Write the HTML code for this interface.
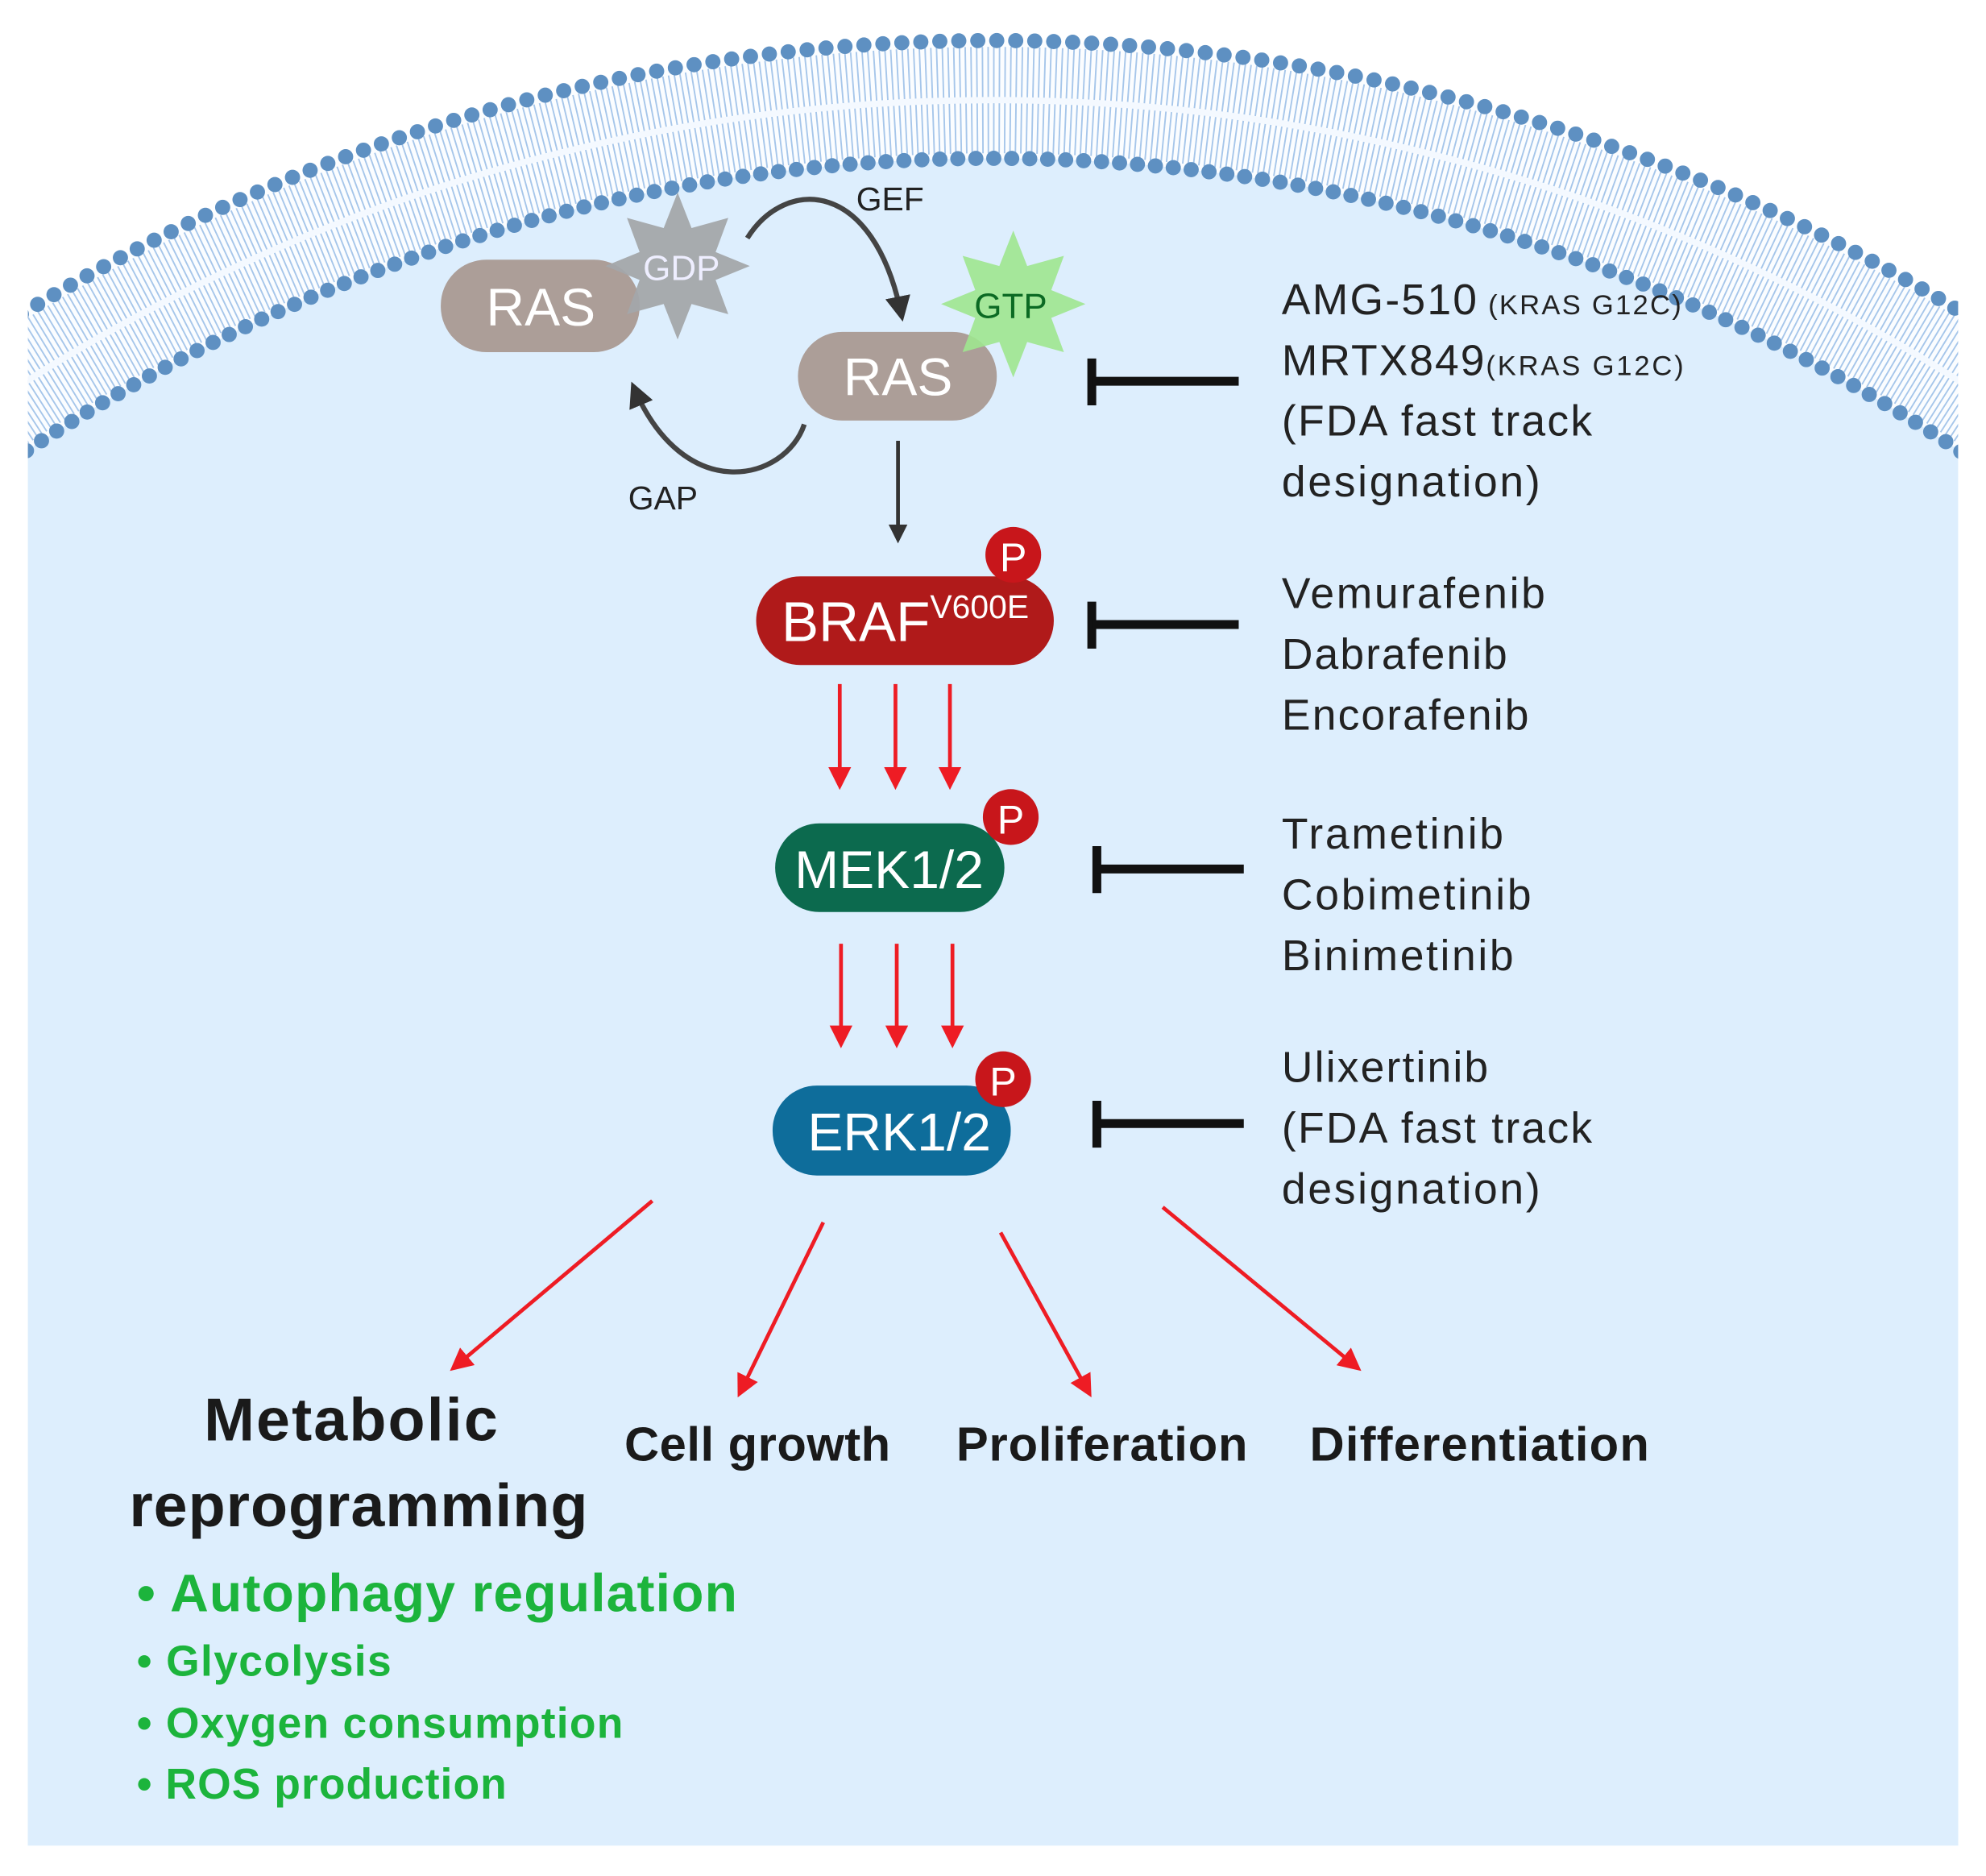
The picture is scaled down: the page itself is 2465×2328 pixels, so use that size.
<!DOCTYPE html>
<html><head><meta charset="utf-8"><style>
html,body{margin:0;padding:0;background:#fff;overflow:hidden;width:2465px;height:2328px}
svg{display:block}
text{font-family:"Liberation Sans",sans-serif}
</style></head><body>
<svg width="2465" height="2328" viewBox="0 0 1568 1481" preserveAspectRatio="none" xmlns="http://www.w3.org/2000/svg">
<defs>
<clipPath id="cp"><rect x="22" y="0" width="1524" height="1457"/></clipPath>
<marker id="ad" viewBox="0 0 10 10" refX="8" refY="5" markerWidth="5" markerHeight="5" orient="auto"><path d="M0,0 L10,5 L0,10 z" fill="#333"/></marker>
<marker id="ar" viewBox="0 0 10 10" refX="8" refY="5" markerWidth="6" markerHeight="6" orient="auto"><path d="M0,0 L10,5 L0,10 z" fill="#ee1c24"/></marker>
</defs>
<rect width="1568" height="1481" fill="#fff"/>
<g clip-path="url(#cp)">
  <circle cx="784" cy="1502" r="1470" fill="#fbfdff"/>
  <circle cx="784" cy="1502" r="1423" fill="none" stroke="#a6c6ea" stroke-width="84" stroke-dasharray="1.2 3.2"/>
  <circle cx="784" cy="1502" r="1423" fill="none" stroke="#f4f9ff" stroke-width="5"/>
  <circle cx="784" cy="1502" r="1377" fill="#ddeefd"/>
  <rect x="22" y="1300" width="1524" height="157" fill="#ddeefd"/>
  <circle cx="784" cy="1502" r="1470" fill="none" stroke="#5e90c2" stroke-width="12" stroke-linecap="round" stroke-dasharray="0 15"/>
  <circle cx="784" cy="1502" r="1377" fill="none" stroke="#5e90c2" stroke-width="12" stroke-linecap="round" stroke-dasharray="0 14.2"/>
</g>

<path d="M590,188 C620,140 690,140 712,250" fill="none" stroke="#444" stroke-width="4" marker-end="url(#ad)"/>
<text x="676" y="166" font-size="26" fill="#222">GEF</text>
<path d="M635,335 C620,380 540,400 500,305" fill="none" stroke="#444" stroke-width="4" marker-end="url(#ad)"/>
<text x="496" y="402" font-size="26" fill="#222">GAP</text>

<rect x="348" y="205" width="157" height="73" rx="36" fill="#ac9e98"/>
<polygon points="535,152 546,180 575,172 565,199 592,210 565,221 575,248 546,240 535,268 524,240 495,248 505,221 478,210 505,199 495,172 524,180" fill="#a3a6aa" opacity="0.95"/>
<text x="427" y="257" font-size="42" fill="#fff" text-anchor="middle">RAS</text>
<text x="538" y="221" font-size="28" fill="#eef" text-anchor="middle">GDP</text>

<rect x="630" y="262" width="157" height="70" rx="35" fill="#ac9e98"/>
<polygon points="800,182 811,210 840,202 830,229 857,240 830,251 840,278 811,270 800,298 789,270 760,278 770,251 743,240 770,229 760,202 789,210" fill="#9ee58f" opacity="0.9"/>
<text x="709" y="312" font-size="42" fill="#fff" text-anchor="middle">RAS</text>
<text x="798" y="251" font-size="28" fill="#0b6a23" text-anchor="middle">GTP</text>

<line x1="709" y1="348" x2="709" y2="426" stroke="#333" stroke-width="3" marker-end="url(#ad)"/>

<rect x="597" y="455" width="235" height="70" rx="35" fill="#b01a1a"/>
<text x="617" y="506" font-size="44" fill="#fff">BRAF<tspan font-size="26" dy="-18">V600E</tspan></text>
<circle cx="800" cy="438" r="22" fill="#c8161b"/>
<text x="800" y="451" font-size="32" fill="#fff" text-anchor="middle">P</text>

<g stroke="#ee1c24" stroke-width="3" marker-end="url(#ar)">
<line x1="663" y1="540" x2="663" y2="620"/><line x1="707" y1="540" x2="707" y2="620"/><line x1="750" y1="540" x2="750" y2="620"/>
<line x1="664" y1="745" x2="664" y2="824"/><line x1="708" y1="745" x2="708" y2="824"/><line x1="752" y1="745" x2="752" y2="824"/>
<line x1="515" y1="948" x2="358" y2="1080"/><line x1="650" y1="965" x2="584" y2="1100"/>
<line x1="790" y1="973" x2="860" y2="1100"/><line x1="918" y1="953" x2="1072" y2="1080"/>
</g>

<rect x="612" y="650" width="181" height="70" rx="35" fill="#0c6a4e"/>
<text x="702" y="701" font-size="42" fill="#fff" text-anchor="middle">MEK1/2</text>
<circle cx="798" cy="645" r="22" fill="#c8161b"/>
<text x="798" y="658" font-size="32" fill="#fff" text-anchor="middle">P</text>

<rect x="610" y="857" width="188" height="71" rx="35" fill="#0e6d9b"/>
<text x="710" y="908" font-size="42" fill="#fff" text-anchor="middle">ERK1/2</text>
<circle cx="792" cy="852" r="22" fill="#c8161b"/>
<text x="792" y="865" font-size="32" fill="#fff" text-anchor="middle">P</text>

<g stroke="#111" stroke-width="7">
<line x1="862" y1="283" x2="862" y2="320"/><line x1="862" y1="301" x2="978" y2="301"/>
<line x1="862" y1="475" x2="862" y2="512"/><line x1="862" y1="493" x2="978" y2="493"/>
<line x1="866" y1="668" x2="866" y2="705"/><line x1="866" y1="686" x2="982" y2="686"/>
<line x1="866" y1="869" x2="866" y2="906"/><line x1="866" y1="887" x2="982" y2="887"/>
</g>

<g font-size="34" fill="#222">
<text x="1012" y="248"><tspan textLength="154">AMG-510</tspan><tspan font-size="22" textLength="160"> (KRAS G12C)</tspan></text>
<text x="1012" y="296"><tspan textLength="160">MRTX849</tspan><tspan font-size="22" textLength="156">(KRAS G12C)</tspan></text>
<text x="1012" y="344" textLength="245">(FDA fast track</text>
<text x="1012" y="392" textLength="204">designation)</text>
<text x="1012" y="480" textLength="208">Vemurafenib</text>
<text x="1012" y="528" textLength="178">Dabrafenib</text>
<text x="1012" y="576" textLength="195">Encorafenib</text>
<text x="1012" y="670" textLength="175">Trametinib</text>
<text x="1012" y="718" textLength="197">Cobimetinib</text>
<text x="1012" y="766" textLength="183">Binimetinib</text>
<text x="1012" y="854" textLength="163">Ulixertinib</text>
<text x="1012" y="902" textLength="245">(FDA fast track</text>
<text x="1012" y="950" textLength="204">designation)</text>
</g>

<g font-weight="bold" fill="#1a1a1a">
<text x="277" y="1137" font-size="48" text-anchor="middle" textLength="232">Metabolic</text>
<text x="283" y="1205" font-size="48" text-anchor="middle" textLength="362">reprogramming</text>
<text x="598" y="1153" font-size="38" text-anchor="middle" textLength="210">Cell growth</text>
<text x="870" y="1153" font-size="38" text-anchor="middle" textLength="230">Proliferation</text>
<text x="1168" y="1153" font-size="38" text-anchor="middle" textLength="268">Differentiation</text>
</g>
<g font-weight="bold" fill="#1cb43c">
<text x="108" y="1272" font-size="42" textLength="474">• Autophagy regulation</text>
<text x="108" y="1323" font-size="34" textLength="201">• Glycolysis</text>
<text x="108" y="1372" font-size="34" textLength="384">• Oxygen consumption</text>
<text x="108" y="1420" font-size="34" textLength="292">• ROS production</text>
</g>
</svg>
</body></html>
